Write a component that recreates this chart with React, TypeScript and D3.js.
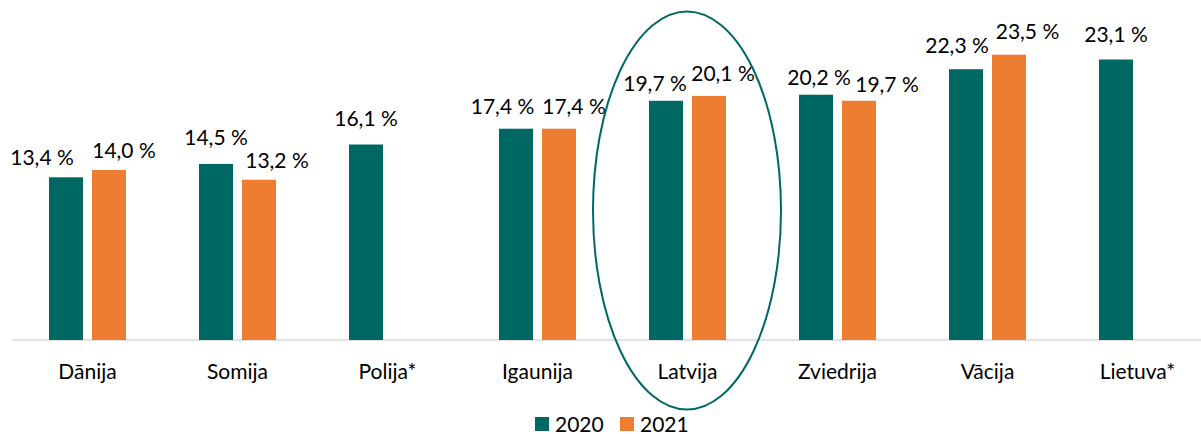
import React from "react";
import * as d3 from "d3";

// data (share, %)
const countries = ["Dānija", "Somija", "Polija*", "Igaunija", "Latvija", "Zviedrija", "Vācija", "Lietuva*"];
const years = ["2020", "2021"];
const values2020 = [13.4, 14.5, 16.1, 17.4, 19.7, 20.2, 22.3, 23.1];
const values2021: (number | null)[] = [14.0, 13.2, null, 17.4, 20.1, 19.7, 23.5, null];

// hand-placed label nudges (dx, dy) as in the original, so they do not overlap
const nudge2020: [number, number][] = [[-24, 0], [0, -7], [0, -7], [-13.5, -3], [-11, 2], [3, 2], [-9, -4], [0, -6]];
const nudge2021: [number, number][] = [[15, 0], [18, 0], [0, 0], [15, -3], [14, -2.5], [28, 3], [18.5, -3.7], [0, 0]];

const colors: Record<string, string> = { "2020": "#006863", "2021": "#ED7D31" };

const width = 1201;
const height = 434;
const baseY = 340;
const font = "Lato, 'Open Sans', sans-serif";

const fmt = (v: number) => v.toFixed(1).replace(".", ",") + " %";

export default function App() {
    const x0 = d3
        .scaleBand()
        .domain(countries)
        .range([12.5, 1212.5])
        .paddingInner(73 / 150)
        .paddingOuter(73 / 300);

    const x1 = d3
        .scaleBand()
        .domain(years)
        .range([0, x0.bandwidth()])
        .paddingInner(9 / 43);

    const y = d3.scaleLinear().domain([0, 28]).range([baseY, 0]);

    const rows = countries.map((c, i) => ({
        country: c,
        bars: [
            { year: "2020", value: values2020[i], nudge: nudge2020[i] },
            { year: "2021", value: values2021[i], nudge: nudge2021[i] },
        ],
    }));

    // highlight around Latvija
    const lx = (x0("Latvija") ?? 0) + x0.bandwidth() / 2;

    return (
        <svg width={width} height={height} style={{ position: "absolute", left: 0, top: 0 }} fontFamily={font}>
            <rect width={width} height={height} fill="#fff" />

            {/* axis line */}
            <line x1={12.5} x2={width} y1={baseY} y2={baseY} stroke="#d9d9d9" strokeWidth={1.5} />

            {rows.map((r) => (
                <g key={r.country} transform={`translate(${x0(r.country)},0)`}>
                    {r.bars.map((b) =>
                        b.value == null ? null : (
                            <g key={b.year}>
                                <rect
                                    x={x1(b.year)}
                                    y={y(b.value)}
                                    width={x1.bandwidth()}
                                    height={baseY - y(b.value)}
                                    fill={colors[b.year]}
                                />
                                <text
                                    x={(x1(b.year) ?? 0) + x1.bandwidth() / 2 + b.nudge[0]}
                                    y={y(b.value) - 12 + b.nudge[1]}
                                    textAnchor="middle"
                                    fontSize={21}
                                    fill="#000"
                                >
                                    {fmt(b.value)}
                                </text>
                            </g>
                        )
                    )}
                    <text x={x0.bandwidth() / 2} y={379} textAnchor="middle" fontSize={21} fill="#000">
                        {r.country}
                    </text>
                </g>
            ))}

            <ellipse cx={lx - 0.5} cy={210.5} rx={94} ry={199} fill="none" stroke="#006863" strokeWidth={2} />

            {/* legend */}
            {years.map((yr, i) => (
                <g key={yr} transform={`translate(${535 + i * 85},417)`}>
                    <rect width={14} height={14} fill={colors[yr]} />
                    <text x={20} y={14.5} fontSize={21} fill="#000">
                        {yr}
                    </text>
                </g>
            ))}
        </svg>
    );
}
